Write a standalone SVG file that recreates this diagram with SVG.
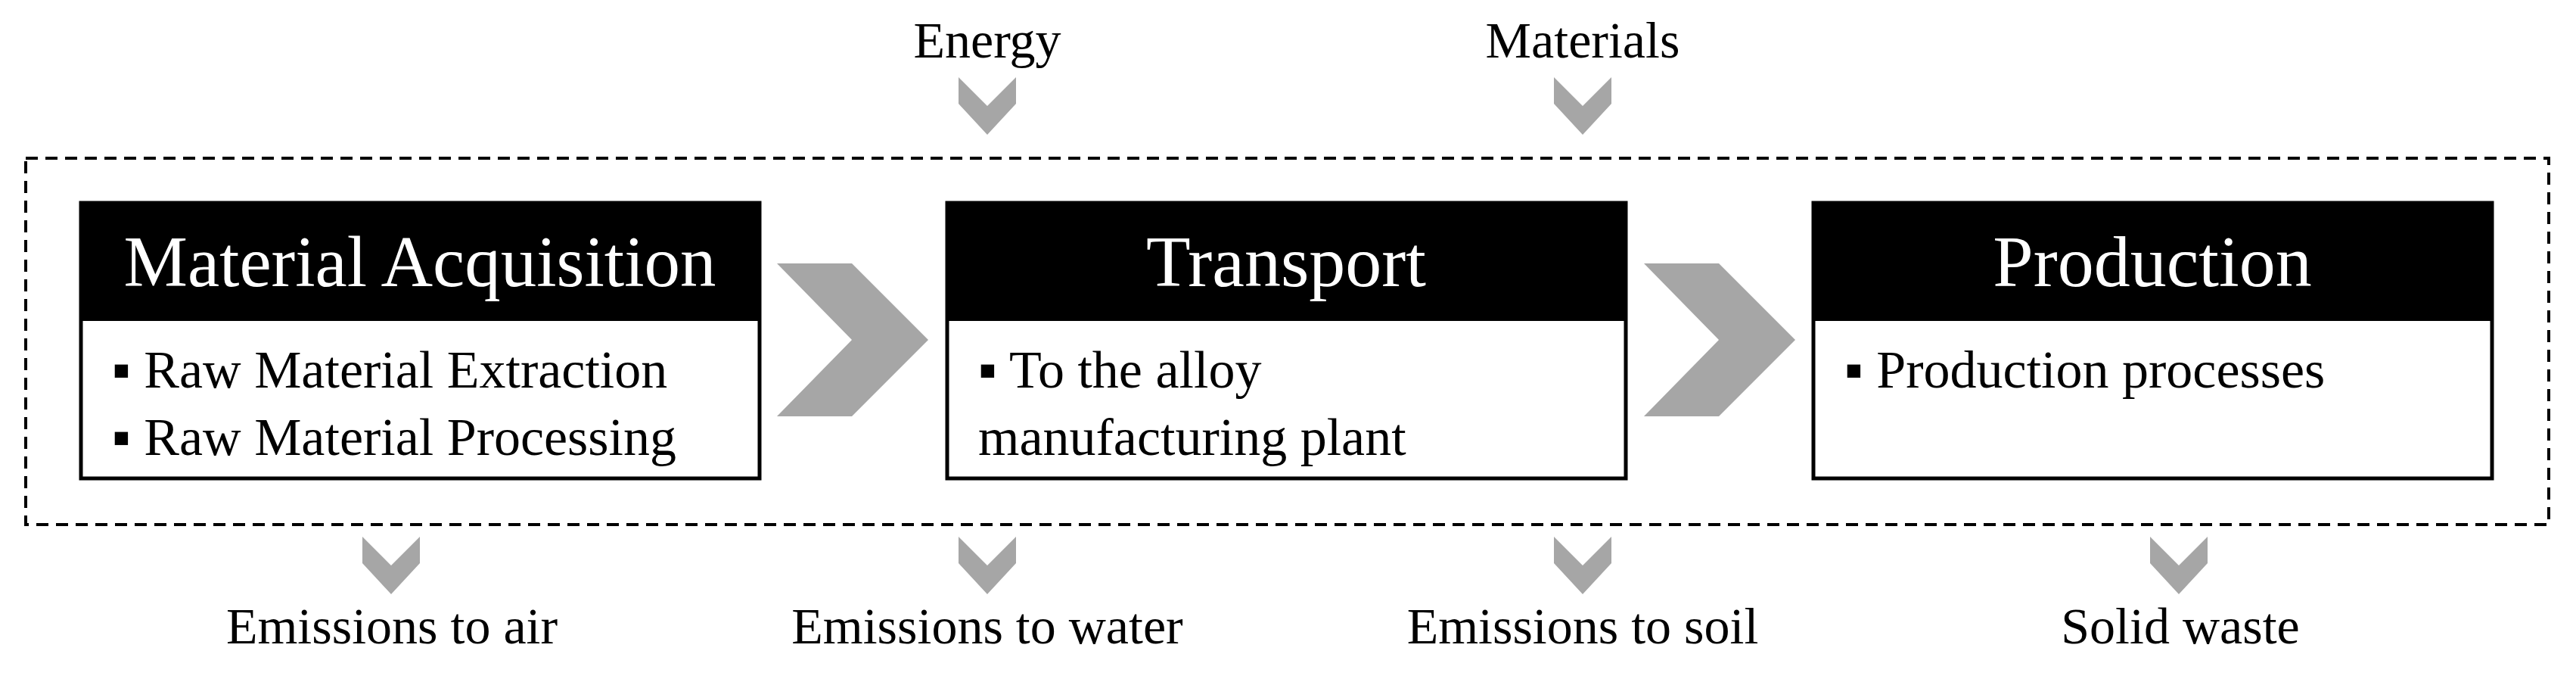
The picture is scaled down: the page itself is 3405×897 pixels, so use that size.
<svg xmlns="http://www.w3.org/2000/svg" width="3405" height="897" viewBox="0 0 3405 897">
<style>
text{font-family:"Liberation Serif","Times New Roman",serif;fill:#000}
.h{font-size:96px;fill:#fff;text-anchor:middle}
.b{font-size:70px}
.l{font-size:68px;text-anchor:middle}
.box{fill:#fff;stroke:#000;stroke-width:5}
.hd{fill:#000}
.ch{fill:#a6a6a6}
</style>
<defs>
<path id="dn" d="M-38,0 L0,38 L38,0 L38,35 L0,76 L-38,35 Z"/>
<path id="rt" d="M0,0 L99,0 L200,101 L99,202 L0,202 L99,101 Z"/>
</defs>
<rect x="34" y="209" width="3335" height="484" fill="none" stroke="#000" stroke-width="4" stroke-dasharray="16 10"/>
<g id="connectors">
<use href="#rt" class="ch" x="1027" y="348"/>
<use href="#rt" class="ch" x="2173" y="348"/>
<use href="#dn" class="ch" x="1305" y="102"/>
<use href="#dn" class="ch" x="2092" y="102"/>
<use href="#dn" class="ch" x="517" y="709"/>
<use href="#dn" class="ch" x="1305" y="709"/>
<use href="#dn" class="ch" x="2092" y="709"/>
<use href="#dn" class="ch" x="2880" y="709"/>
</g>
<g id="node-acq">
<rect class="box" x="107" y="268" width="897" height="364"/>
<rect class="hd" x="107" y="268" width="897" height="156"/>
<text class="h" x="555" y="378" textLength="783" lengthAdjust="spacingAndGlyphs">Material Acquisition</text>
<text class="b" x="148" y="512">▪ Raw Material Extraction</text>
<text class="b" x="148" y="601">▪ Raw Material Processing</text>
</g>
<g id="node-transport">
<rect class="box" x="1252" y="268" width="897" height="364"/>
<rect class="hd" x="1252" y="268" width="897" height="156"/>
<text class="h" x="1700" y="378">Transport</text>
<text class="b" x="1293" y="512">▪ To the alloy</text>
<text class="b" x="1293" y="601">manufacturing plant</text>
</g>
<g id="node-production">
<rect class="box" x="2397" y="268" width="897" height="364"/>
<rect class="hd" x="2397" y="268" width="897" height="156"/>
<text class="h" x="2845" y="378">Production</text>
<text class="b" x="2438" y="512">▪ Production processes</text>
</g>
<g id="labels">
<text class="l" x="1305" y="76">Energy</text>
<text class="l" x="2092" y="76">Materials</text>
<text class="l" x="518" y="850">Emissions to air</text>
<text class="l" x="1305" y="850">Emissions to water</text>
<text class="l" x="2092" y="850">Emissions to soil</text>
<text class="l" x="2882" y="850">Solid waste</text>
</g>
</svg>
